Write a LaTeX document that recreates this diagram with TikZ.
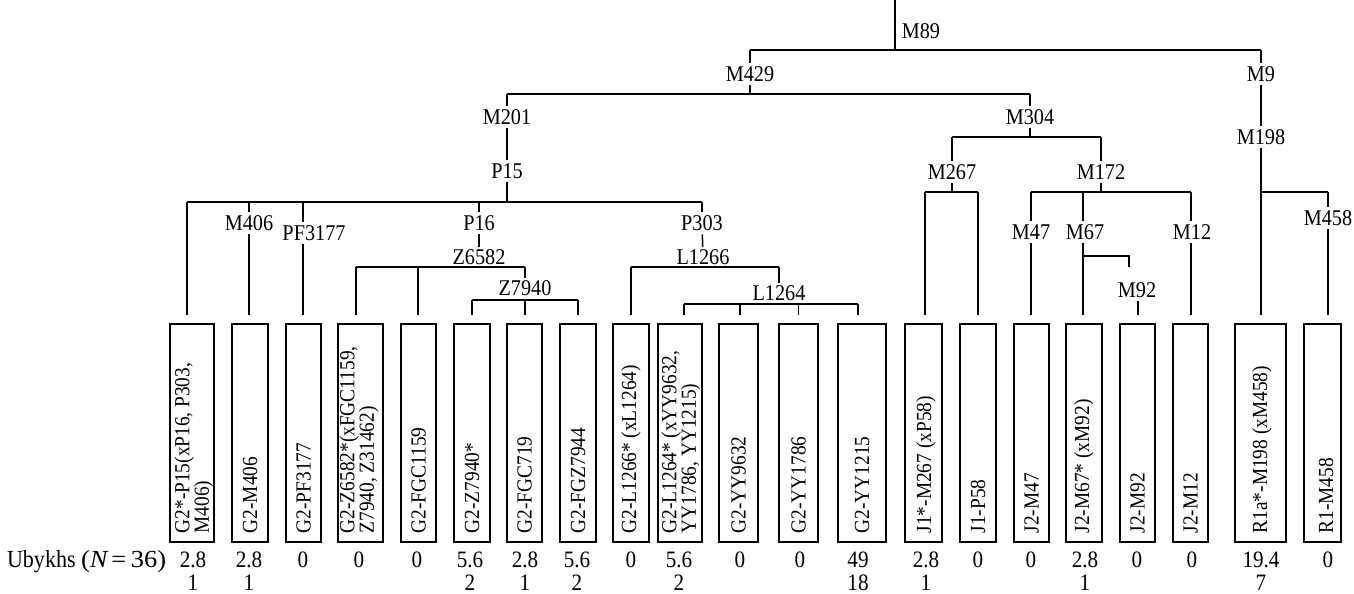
\documentclass[tikz,border=0pt]{standalone}
\usepackage{fontspec}
\setmainfont{Liberation Serif}[FakeStretch=0.9]
\begin{document}
\begin{tikzpicture}[x=1pt,y=-1pt,line width=1.5pt,
  lbl/.style={font=\fontsize{22.5}{24}\selectfont,inner sep=3pt},
  box/.style={draw,minimum height=218pt,inner sep=0pt},
  btxt/.style={font=\fontsize{21.5}{19.5}\selectfont,rotate=90,anchor=west,align=left,inner sep=0pt},
  val/.style={font=\fontsize{23.5}{25}\selectfont,anchor=base,inner sep=0pt},
  stem/.style={shorten >=8pt},
  thinline/.style={line width=0.8pt}]
\useasboundingbox (0,0) rectangle (1354,594);

% ---------- boxes ----------
\foreach \n/\cx/\w in {1/192/44,2/250/36,3/303.5/35,4/360.5/45,5/418.5/35,6/472/36,7/524.5/35,
  8/578/36,9/631/36,10/680/44,11/738.5/39,12/798.5/39,13/862/48,14/923.5/37,15/978/36,
  16/1031.5/35,17/1084/36,18/1137.5/35,19/1190.5/35,20/1260.5/51,21/1322.5/37}
  \node[box,minimum width=\w pt] (b\n) at (\cx,433) {};

\node[btxt] (t1) at (194,534) {G2*-P15(xP16, P303,\\M406)};
\node[btxt] (t2) at (b2.south |- 0,534) {G2-M406};
\node[btxt] (t3) at (b3.south |- 0,534) {G2-PF3177};
\node[btxt] (t4) at (359,534) {G2-Z6582*(xFGC1159,\\Z7940, Z31462)};
\node[btxt] (t5) at (b5.south |- 0,534) {G2-FGC1159};
\node[btxt] (t6) at (b6.south |- 0,534) {G2-Z7940*};
\node[btxt] (t7) at (b7.south |- 0,534) {G2-FGC719};
\node[btxt] (t8) at (b8.south |- 0,534) {G2-FGZ7944};
\node[btxt] (t9) at (b9.south |- 0,534) {G2-L1266* (xL1264)};
\node[btxt] (t10) at (681,534) {G2-L1264* (xYY9632,\\YY1786, YY1215)};
\node[btxt] (t11) at (b11.south |- 0,534) {G2-YY9632};
\node[btxt] (t12) at (b12.south |- 0,534) {G2-YY1786};
\node[btxt] (t13) at (b13.south |- 0,534) {G2-YY1215};
\node[btxt] (t14) at (926,534) {J1*-M267 (xP58)};
\node[btxt] (t15) at (b15.south |- 0,534) {J1-P58};
\node[btxt] (t16) at (b16.south |- 0,534) {J2-M47};
\node[btxt] (t17) at (b17.south |- 0,534) {J2-M67* (xM92)};
\node[btxt] (t18) at (b18.south |- 0,534) {J2-M92};
\node[btxt] (t19) at (b19.south |- 0,534) {J2-M12};
\node[btxt] (t20) at (1262,534) {R1a*-M198 (xM458)};
\node[btxt] (t21) at (1326,534) {R1-M458};

% ---------- values ----------
\node[val,anchor=base east,font=\fontsize{24.5}{26}\selectfont] (ub) at (167,567)
  {Ubykhs \scalebox{1.2}[1]{(\textit{N}\hspace{2pt}=\hspace{4pt}36)}};
\foreach \n/\x/\a/\b in {1/193/2.8/1,2/249/2.8/1,3/303/0/,4/359/0/,5/417/0/,6/470/5.6/2,
  7/525/2.8/1,8/577/5.6/2,9/631/0/,10/679/5.6/2,11/740/0/,12/800/0/,13/858/49/18,
  14/926/2.8/1,15/978/0/,16/1031/0/,17/1085/2.8/1,18/1137/0/,19/1192/0/,20/1261/19.4/7,21/1328/0/}
{
  \node[val] (v\n) at (\x,567) {\a};
  \node[val] (w\n) at (\x,590) {\b};
}

% ---------- tree labels ----------
\node[lbl,anchor=west] (M89) at (898,31) {M89};
\node[lbl] (M429) at (750,74) {M429};
\node[lbl] (M9) at (1261,74) {M9};
\node[lbl] (M201) at (507,117) {M201};
\node[lbl] (P15) at (507,171) {P15};
\node[lbl] (M304) at (1030,117) {M304};
\node[lbl] (M198) at (1261,137) {M198};
\node[lbl] (M267) at (952,172) {M267};
\node[lbl] (M172) at (1101,172) {M172};
\node[lbl] (M406) at (249,223) {M406};
\node[lbl] (PF3177) at (314,233) {PF3177};
\node[lbl] (P16) at (479,223) {P16};
\node[lbl,inner sep=1.5pt] (Z6582) at (479,257) {Z6582};
\node[lbl,inner sep=1.5pt] (Z7940) at (525,288) {Z7940};
\node[lbl] (P303) at (702,223) {P303};
\node[lbl,inner sep=1.5pt] (L1266) at (703,257) {L1266};
\node[lbl,inner sep=1.5pt] (L1264) at (779,293) {L1264};
\node[lbl] (M47) at (1031,232) {M47};
\node[lbl] (M67) at (1085,232) {M67};
\node[lbl] (M12) at (1192,232) {M12};
\node[lbl] (M92) at (1137,290) {M92};
\node[lbl] (M458) at (1328,218) {M458};

% ---------- junction coordinates ----------
\coordinate (root) at (895,0);
\coordinate (j89) at (895,50);
\coordinate (j429a) at (750,50);
\coordinate (j9a) at (1261,50);
\coordinate (j429) at (750,94);
\coordinate (j201a) at (507,94);
\coordinate (j304a) at (1030,94);
\coordinate (j15) at (507,202);
\coordinate (s1) at (187,202);
\coordinate (s2) at (249,202);
\coordinate (s3) at (303,202);
\coordinate (s16) at (479,202);
\coordinate (s303) at (702,202);
\coordinate (z1) at (356,267);
\coordinate (z2) at (418,267);
\coordinate (z3) at (525,267);
\coordinate (y1) at (472,300);
\coordinate (y2) at (525,300);
\coordinate (y3) at (578,300);
\coordinate (l1) at (631,267);
\coordinate (l2) at (779,267);
\coordinate (k1) at (684,304);
\coordinate (k2) at (740,304);
\coordinate (k3) at (798,304);
\coordinate (k4) at (858,304);
\coordinate (j304) at (1030,137);
\coordinate (r1) at (952,137);
\coordinate (r2) at (1101,137);
\coordinate (j267) at (952,192);
\coordinate (q1) at (925,192);
\coordinate (q2) at (978,192);
\coordinate (j172) at (1101,192);
\coordinate (p1) at (1031,192);
\coordinate (p2) at (1083,192);
\coordinate (p3) at (1191,192);
\coordinate (m67b) at (1083,256);
\coordinate (m92a) at (1129,256);
\coordinate (m92b) at (1129,267);
\coordinate (m92s) at (1138,290);
\coordinate (j198) at (1261,192);
\coordinate (n2) at (1328,192);

% ---------- connectors ----------
\draw (root) -- (j89);
\draw (j429a) -- (j9a);
\draw (j429a) -- (M429);
\draw (M429) -- (j429);
\draw (j201a) -- (j304a);
\draw (j201a) -- (M201);
\draw (M201) -- (P15);
\draw (P15) -- (j15);
\draw (s1) -- (s303);
\draw[stem] (s1) -- (s1 |- b1.north);
\draw (s2) -- (s2 |- M406.north);
\draw[stem] (s2 |- M406.south) -- (s2 |- b2.north);
\draw (s3) -- (s3 |- PF3177.north);
\draw[stem] (s3 |- PF3177.south) -- (s3 |- b3.north);
\draw (s16) -- (P16);
\draw (P16) -- (Z6582);
\draw (z1) -- (z3);
\draw[stem] (z1) -- (z1 |- b4.north);
\draw[stem] (z2) -- (z2 |- b5.north);
\draw (z3) -- (Z7940);
\draw (y1) -- (y3);
\draw[stem] (y1) -- (y1 |- b6.north);
\draw[stem] (y2) -- (y2 |- b7.north);
\draw[stem] (y3) -- (y3 |- b8.north);
\draw (s303) -- (P303);
\draw (P303) -- (L1266);
\draw (l1) -- (l2);
\draw[stem] (l1) -- (l1 |- b9.north);
\draw (l2) -- (L1264);
\draw (k1) -- (k4);
\draw[stem] (k1) -- (k1 |- b10.north);
\draw[stem] (k2) -- (k2 |- b11.north);
\draw[stem,thinline] (k3) -- (k3 |- b12.north);
\draw[stem] (k4) -- (k4 |- b13.north);
\draw (j304a) -- (M304);
\draw (M304) -- (j304);
\draw (r1) -- (r2);
\draw (r1) -- (M267);
\draw (M267) -- (j267);
\draw (q1) -- (q2);
\draw[stem] (q1) -- (q1 |- b14.north);
\draw[stem] (q2) -- (q2 |- b15.north);
\draw (r2) -- (M172);
\draw (M172) -- (j172);
\draw (p1) -- (p3);
\draw (p1) -- (M47);
\draw[stem] (M47) -- (p1 |- b16.north);
\draw (p2) -- (p2 |- M67.north);
\draw[stem] (p2 |- M67.south) -- (p2 |- b17.north);
\draw (m67b) -- (m92a) -- (m92b);
\draw[stem] (m92s |- M92.south) -- (m92s |- b18.north);
\draw (p3) -- (p3 |- M12.north);
\draw[stem] (p3 |- M12.south) -- (p3 |- b19.north);
\draw (j9a) -- (M9);
\draw (M9) -- (M198);
\draw[stem] (M198) -- (j198 |- b20.north);
\draw (j198) -- (n2);
\draw (n2) -- (M458);
\draw[stem] (M458) -- (n2 |- b21.north);
\end{tikzpicture}
\end{document}
